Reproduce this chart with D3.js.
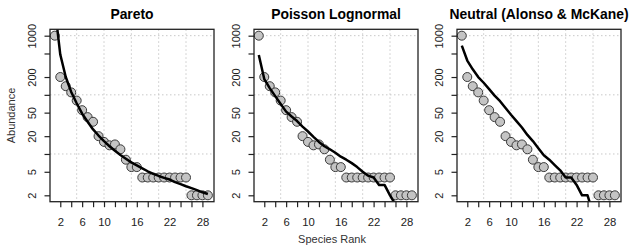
<!DOCTYPE html>
<html>
<head>
<meta charset="utf-8">
<script src="https://cdn.jsdelivr.net/npm/d3@7"></script>
<style>
  body { margin: 0; background: #fff; }
  svg { display: block; font-family: "Liberation Sans", Arial, Helvetica, sans-serif; }
</style>
</head>
<body>
<div id="chart"></div>
<script>
// Species rank / abundance data
const ranks = d3.range(1, 30);
const observed = [1000, 200, 140, 110, 80, 55, 42, 35, 20, 16, 14, 14.5, 12, 8, 6, 6,
                  4, 4, 4, 4, 4, 4, 4, 4, 4, 2, 2, 2, 2];

// fitted curves
const paretoFit = [3000, 480, 200, 112, 72, 48, 35, 26, 20.5, 16.5, 13.5, 11.3, 9.6, 8.3, 7.2, 6.4,
                   5.7, 5.1, 4.6, 4.25, 3.95, 3.7, 3.35, 3.1, 2.85, 2.65, 2.45, 2.25, 2.1];
const poissonFit = [470, 185, 130, 95, 70, 52, 43, 36, 29, 24, 19.5, 16, 13.5, 12, 10.5, 9,
                    8, 7, 6, 5, 4.3, 4, 3, 3, 2, 1.4, 1, 1, 1];
const neutralFit = [680, 380, 270, 200, 160, 125, 97, 78, 60, 46, 36, 28, 21, 16.5, 12.5, 9.5,
                    8, 6.5, 5.3, 4, 4, 3, 2, 2, 1, 1, 1, 1, 1];

const panelTitles = ["Pareto", "Poisson Lognormal", "Neutral (Alonso & McKane)"];
const panelFits = [paretoFit, poissonFit, neutralFit];

const xTicks = d3.range(2, 29, 2);
const xTickLabels = [2, 6, 10, 16, 22, 28];
const xGrid = [5, 10, 15, 20, 25];
const yTicks = [1000, 500, 200, 100, 50, 20, 10, 5, 2];
const yTickLabels = [1000, 200, 50, 20, 5, 2];
const yGrid = [1000, 100, 10];

const W = 634, H = 251;
const panelLeft = [50, 254, 457];
const boxW = 164, boxTop = 29.3, boxH = 172.4;

const svg = d3.select("#chart").append("svg")
    .attr("width", W)
    .attr("height", H);

// shared scales (R style 4% padding)
const x = d3.scaleLinear().domain([0.12, 30.12]).range([0, boxW]);
const y = d3.scaleLog().domain([Math.pow(10, 0.193), Math.pow(10, 3.108)]).range([boxH, 0]);

panelFits.forEach((fit, i) => {
    const g = svg.append("g")
        .attr("transform", `translate(${panelLeft[i]}, ${boxTop})`);

    g.append("clipPath")
        .attr("id", "clip" + i)
        .append("rect")
        .attr("width", boxW)
        .attr("height", boxH);

    // grid
    g.selectAll(".vgrid").data(xGrid).enter().append("line")
        .attr("x1", d => x(d)).attr("x2", d => x(d))
        .attr("y1", 0).attr("y2", boxH)
        .attr("stroke", "#c8c8c8").attr("stroke-width", 1)
        .attr("stroke-dasharray", "1.5,2.5");
    g.selectAll(".hgrid").data(yGrid).enter().append("line")
        .attr("x1", 0).attr("x2", boxW)
        .attr("y1", d => y(d)).attr("y2", d => y(d))
        .attr("stroke", "#c8c8c8").attr("stroke-width", 1)
        .attr("stroke-dasharray", "1.5,2.5");

    // points
    g.append("g").selectAll("circle")
        .data(ranks.map((r, j) => ({ r: r, v: observed[j] })))
        .enter().append("circle")
        .attr("cx", d => x(d.r))
        .attr("cy", d => y(d.v))
        .attr("r", 4.5)
        .attr("fill", "#c4c4c4")
        .attr("stroke", "#3a3a3a")
        .attr("stroke-width", 1);

    // fitted line
    const line = d3.line()
        .x(d => x(d.r))
        .y(d => y(d.v));
    g.append("path")
        .datum(ranks.map((r, j) => ({ r: r, v: fit[j] })))
        .attr("clip-path", `url(#clip${i})`)
        .attr("fill", "none")
        .attr("stroke", "#000")
        .attr("stroke-width", 2.5)
        .attr("stroke-linejoin", "round")
        .attr("d", line);

    // box
    g.append("rect")
        .attr("width", boxW).attr("height", boxH)
        .attr("fill", "none")
        .attr("stroke", "#222").attr("stroke-width", 1.3);

    // x axis
    const xa = g.append("g")
        .attr("transform", `translate(0, ${boxH})`)
        .call(d3.axisBottom(x).tickValues(xTicks).tickSize(5.5).tickPadding(11)
            .tickFormat(d => xTickLabels.includes(d) ? d : ""));
    xa.select(".domain").remove();
    xa.selectAll("line").attr("stroke", "#222").attr("stroke-width", 1.2);
    xa.selectAll("text").attr("font-size", "11.3px").attr("fill", "#222")
        .attr("font-family", "Liberation Sans, Arial, sans-serif");

    // y axis
    const ya = g.append("g")
        .call(d3.axisLeft(y).tickValues(yTicks).tickSize(5.5)
            .tickFormat(d => yTickLabels.includes(d) ? d : ""));
    ya.select(".domain").remove();
    ya.selectAll("line").attr("stroke", "#222").attr("stroke-width", 1.2);
    ya.selectAll("text")
        .attr("font-size", "11px").attr("fill", "#222")
        .attr("font-family", "Liberation Sans, Arial, sans-serif")
        .attr("x", null).attr("dy", null)
        .attr("text-anchor", "middle")
        .attr("transform", "translate(-14.5, 0) rotate(-90)");

    // title
    g.append("text")
        .attr("x", boxW / 2)
        .attr("y", 19 - boxTop)
        .attr("text-anchor", "middle")
        .attr("font-size", "13.9px")
        .attr("font-weight", "bold")
        .attr("fill", "#000")
        .text(panelTitles[i]);
});

// axis titles
svg.append("text")
    .attr("x", 332)
    .attr("y", 243)
    .attr("text-anchor", "middle")
    .attr("font-size", "11px")
    .attr("fill", "#333")
    .text("Species Rank");

svg.append("text")
    .attr("transform", `translate(15, ${boxTop + boxH / 2}) rotate(-90)`)
    .attr("text-anchor", "middle")
    .attr("font-size", "11px")
    .attr("fill", "#333")
    .text("Abundance");
</script>
</body>
</html>
